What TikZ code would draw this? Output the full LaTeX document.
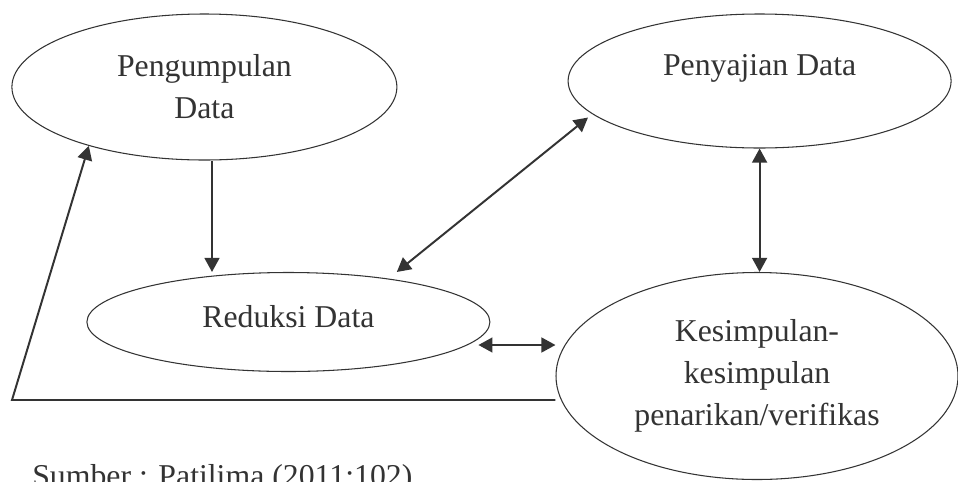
\documentclass[tikz,border=0pt]{standalone}
\usepackage{fontspec}
\setmainfont{Liberation Serif}[Ligatures=CommonOff]
\usepackage{tikz}
\usetikzlibrary{arrows.meta}
\usetikzlibrary{shapes.geometric}

\definecolor{garis}{HTML}{333333}

\begin{document}
\begin{tikzpicture}[font=\fontsize{22.6}{29.8}\selectfont, text=garis,
  tahap/.style={ellipse, draw=garis, line width=0.75pt, align=center},
  panah/.style={<->, draw=garis, line width=1.4pt, >={Triangle[length=0.35cm,width=0.37cm]}}]

 \path[use as bounding box, fill=white] (0,0) rectangle (23.95,-12.025);


 \node[tahap, minimum width=9.625cm, minimum height=3.65cm] (pengumpulan_data) at (5.11,-2.175)
     {Pengumpulan\\Data};

 \node[tahap, minimum width=10.075cm, minimum height=2.475cm, text depth=0.3cm] (reduksi_data) at (7.21,-8.05)
     {Reduksi Data};

 \node[tahap, minimum width=9.575cm, minimum height=3.35cm, text depth=0.79cm] (penyajian_data) at (18.99,-2.025)
     {Penyajian Data};

 \node[tahap, minimum width=10.05cm, minimum height=5.175cm] (kesimpulan_data) at (18.925,-9.4)
     {Kesimpulan-\\kesimpulan\\penarikan/verifikas};

 \node[anchor=base west, inner sep=0pt] (sumber) at (0.8,-12.15)
     {Sumber : Patilima (2011:102)};

 \coordinate (sudut) at (0.3,-10.0);


 \draw [panah, <-] ([xshift=0.19cm]pengumpulan_data.south |- reduksi_data.north) -- ([xshift=0.19cm]pengumpulan_data.south);
 \draw [panah] ([xshift=2.71cm]reduksi_data.north) -- ([xshift=-4.29cm, yshift=0.775cm]penyajian_data.south);
 \draw [panah] (penyajian_data.south) -- (penyajian_data.south |- kesimpulan_data.north);
 \draw [panah] ([xshift=-0.3cm, yshift=-0.575cm]reduksi_data.east) -- ([yshift=0.775cm]kesimpulan_data.west);
 \draw [panah, -{Triangle[length=0.35cm,width=0.37cm]}] (kesimpulan_data.west |- sudut) -- (sudut) -- (pengumpulan_data.207);


\end{tikzpicture}
\end{document}
